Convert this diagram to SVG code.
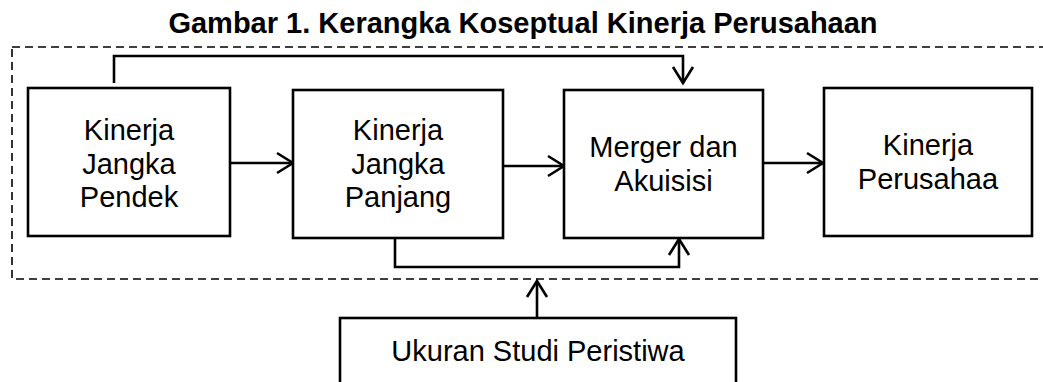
<svg xmlns="http://www.w3.org/2000/svg" width="1043" height="382" viewBox="0 0 1043 382">
  <style>
    .box { fill: #fff; stroke: #000; stroke-width: 2.6; }
    .lbl { font-family: "Liberation Sans", Arial, sans-serif; font-size: 29px; fill: #000; text-anchor: middle; }
    .title { font-family: "Liberation Sans", Arial, sans-serif; font-size: 29px; font-weight: bold; fill: #000; text-anchor: middle; }
    .conn { fill: none; stroke: #000; stroke-width: 2.6; marker-end: url(#arr); }
    .dash { fill: none; stroke: #000; stroke-width: 1.6; stroke-dasharray: 8 5; }
  </style>
  <defs>
    <marker id="arr" markerUnits="userSpaceOnUse" viewBox="0 0 18 22" refX="17" refY="11" markerWidth="18" markerHeight="22" orient="auto" overflow="visible">
      <path d="M1,1 L17,11 L1,21" fill="none" stroke="#000" stroke-width="2.6"/>
    </marker>
  </defs>
  <rect width="1043" height="382" fill="#fff"/>
  <text class="title" x="523" y="33">Gambar 1. Kerangka Koseptual Kinerja Perusahaan</text>
  <rect class="dash" x="12" y="47" width="1060" height="232"/>

  <g id="connectors">
    <polyline class="conn" points="114,83 114,56 683,56 683,83"/>
    <polyline class="conn" points="395,238 395,267 679,267 679,239"/>
    <line class="conn" x1="230" y1="163" x2="293" y2="163"/>
    <line class="conn" x1="503" y1="166" x2="564" y2="166"/>
    <line class="conn" x1="763" y1="163" x2="823" y2="163"/>
    <line class="conn" x1="537" y1="318" x2="537" y2="281"/>
  </g>

  <g id="node-pendek">
    <rect class="box" x="28" y="88" width="202" height="148"/>
    <text class="lbl" x="129" y="140">Kinerja</text>
    <text class="lbl" x="129" y="173.5">Jangka</text>
    <text class="lbl" x="129" y="207">Pendek</text>
  </g>
  <g id="node-panjang">
    <rect class="box" x="293" y="90" width="210" height="148"/>
    <text class="lbl" x="398" y="140">Kinerja</text>
    <text class="lbl" x="398" y="173.5">Jangka</text>
    <text class="lbl" x="398" y="207">Panjang</text>
  </g>
  <g id="node-merger">
    <rect class="box" x="564" y="90" width="199" height="148"/>
    <text class="lbl" x="663.5" y="157">Merger dan</text>
    <text class="lbl" x="663.5" y="190.5">Akuisisi</text>
  </g>
  <g id="node-perusahaan">
    <rect class="box" x="824" y="88" width="208" height="148"/>
    <text class="lbl" x="928" y="155">Kinerja</text>
    <text class="lbl" x="928" y="188.5">Perusahaa</text>
  </g>
  <g id="node-ukuran">
    <rect class="box" x="340" y="318" width="396" height="80"/>
    <text class="lbl" x="538" y="361">Ukuran Studi Peristiwa</text>
  </g>
</svg>
